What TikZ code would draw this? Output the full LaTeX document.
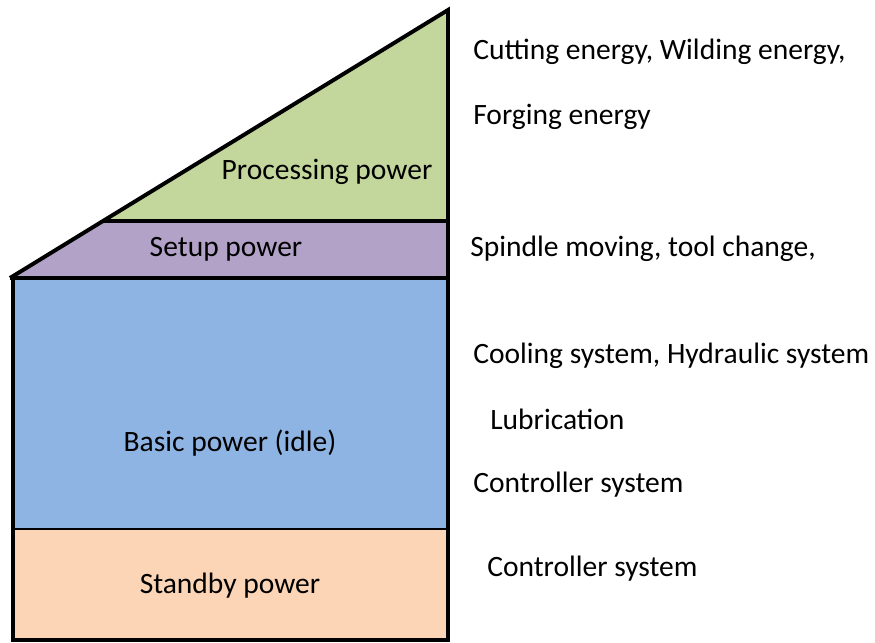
\documentclass[tikz,border=0pt]{standalone}
\usepackage{fontspec}
\setmainfont{Carlito}
\usetikzlibrary{positioning}

\definecolor{procgreen}{HTML}{C3D69B}
\definecolor{setuppurple}{HTML}{B2A2C7}
\definecolor{basicblue}{HTML}{8EB4E3}
\definecolor{standbypeach}{HTML}{FBD5B5}

\begin{document}
\begin{tikzpicture}[x=0.025cm, y=-0.025cm, font=\fontsize{21}{25}\selectfont,
    outline/.style={draw=black, line width=2.8pt, line join=miter},
    inner line/.style={draw=black, line width=1.6pt},
    note/.style={anchor=west, inner sep=0pt}]
\useasboundingbox (0,0) rectangle (875,643);

% layers, bottom up
\fill[standbypeach] (13,529) rectangle (448,640);
\fill[basicblue] (13,278) rectangle (448,529);
\fill[setuppurple] (10,278) -- (103,221) -- (448,221) -- (448,278) -- cycle;
\fill[procgreen] (103,221) -- (448,10) -- (448,221) -- cycle;

% borders
\draw[inner line] (13,529) -- (448,529);
\draw[outline] (10,278) -- (448,278);
\draw[outline] (103,221) -- (448,221);
\draw[outline] (13,278) -- (13,640) -- (448,640) -- (448,10) -- (103,221) -- (10,278);

% layer names
\node (proc)    at (327,172) {Processing power};
\node (setup)   at (226,249) {Setup power};
\node (basic)   at (230,443) {Basic power (idle)};
\node (standby) at (230,586) {Standby power};

% consumers
\node[note] (cut)   at (473,52)  {Cutting energy, Wilding energy,};
\node[note] (forge) at (473,117) {Forging energy};
\node[note] (spin)  at (470,249) {Spindle moving, tool change,};
\node[note] (cool)  at (473,356) {Cooling system, Hydraulic system};
\node[note] (lub)   at (490,419) {Lubrication};
\node[note] (ctrlA) at (473,485) {Controller system};
\node[note] (ctrlB) at (487,569) {Controller system};
\end{tikzpicture}
\end{document}
